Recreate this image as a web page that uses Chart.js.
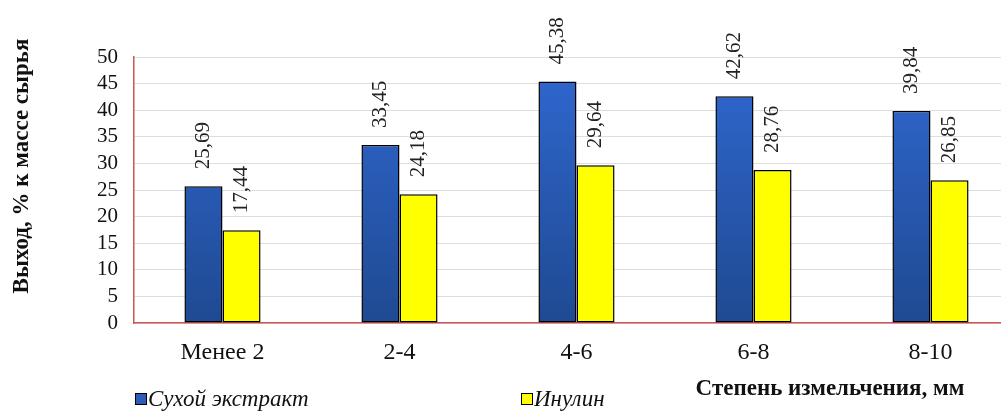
<!DOCTYPE html>
<html>
<head>
<meta charset="utf-8">
<script src="https://cdn.jsdelivr.net/npm/chart.js@4.4.1/dist/chart.umd.min.js"></script>
<style>
  html, body { margin: 0; padding: 0; background: #fff; overflow: hidden; }
  #wrap { width: 1019px; height: 412px; }
</style>
</head>
<body>
<div id="wrap"><canvas id="chart"></canvas></div>
<script>
// Data
const categories = ['Менее 2', '2-4', '4-6', '6-8', '8-10'];
const extractValues = [25.69, 33.45, 45.38, 42.62, 39.84];
const inulinValues = [17.44, 24.18, 29.64, 28.76, 26.85];
const seriesNames = ['Сухой экстракт', 'Инулин'];
const yTitle = 'Выход, % к массе сырья';
const xTitle = 'Степень измельчения, мм';

const serif = '"Liberation Serif", "DejaVu Serif", serif';

// blue bars get a vertical gradient like the original
const blueFill = (ctx) => {
  const chart = ctx.chart;
  const area = chart.chartArea;
  if (!area) return '#2a5cb8';
  const g = chart.ctx.createLinearGradient(0, area.top, 0, area.bottom);
  g.addColorStop(0, '#3068d2');
  g.addColorStop(1, '#1f4a92');
  return g;
};

// value labels, rotated, above every bar
const valueLabels = {
  id: 'valueLabels',
  afterDatasetsDraw(chart) {
    const ctx = chart.ctx;
    ctx.save();
    ctx.font = '21px ' + serif;
    ctx.fillStyle = '#222';
    ctx.textAlign = 'left';
    ctx.textBaseline = 'middle';
    chart.data.datasets.forEach((ds, i) => {
      chart.getDatasetMeta(i).data.forEach((bar, j) => {
        ctx.save();
        ctx.translate(bar.x, bar.y - 17);
        ctx.rotate(-Math.PI / 2);
        ctx.fillText(ds.data[j].toFixed(2).replace('.', ','), 0, 0);
        ctx.restore();
      });
    });
    ctx.restore();
  }
};

// axis titles and legend
const extraTexts = {
  id: 'extraTexts',
  afterDraw(chart) {
    const ctx = chart.ctx;
    ctx.save();
    ctx.fillStyle = '#111';
    ctx.font = 'bold 23px ' + serif;
    ctx.textAlign = 'center';
    ctx.textBaseline = 'middle';
    ctx.fillText(xTitle, 830, 389);

    ctx.save();
    ctx.translate(22, 166);
    ctx.rotate(-Math.PI / 2);
    ctx.fillText(yTitle, 0, 0);
    ctx.restore();

    const items = [
      { x: 135, color: '#2a5cb8', text: seriesNames[0] },
      { x: 521, color: '#ffff00', text: seriesNames[1] }
    ];
    ctx.font = 'italic 23px ' + serif;
    ctx.textAlign = 'left';
    items.forEach((it) => {
      ctx.fillStyle = it.color;
      ctx.fillRect(it.x, 393, 11, 11);
      ctx.strokeStyle = '#000';
      ctx.lineWidth = 1;
      ctx.strokeRect(it.x + 0.5, 393.5, 11, 11);
      ctx.fillStyle = '#111';
      ctx.fillText(it.text, it.x + 13, 400);
    });
    ctx.restore();
  }
};

new Chart(document.getElementById('chart'), {
  type: 'bar',
  data: {
    labels: categories,
    datasets: [
      {
        label: seriesNames[0],
        data: extractValues,
        backgroundColor: blueFill,
        borderColor: '#000',
        borderWidth: 1.5,
        borderSkipped: false
      },
      {
        label: seriesNames[1],
        data: inulinValues,
        backgroundColor: '#ffff00',
        borderColor: '#000',
        borderWidth: 1.5,
        borderSkipped: false
      }
    ]
  },
  options: {
    responsive: true,
    maintainAspectRatio: false,
    animation: false,
    layout: { padding: { top: 57, right: 0, bottom: 0, left: 0 } },
    datasets: { bar: { categoryPercentage: 0.43, barPercentage: 1 } },
    plugins: {
      legend: { display: false },
      tooltip: { enabled: false }
    },
    scales: {
      x: {
        grid: { display: false, drawTicks: false },
        border: { color: '#cc5555', width: 1.5 },
        ticks: { color: '#111', font: { family: serif, size: 24 }, padding: 15, autoSkip: false, maxRotation: 0 },
        afterFit: (scale) => { scale.height = 89; }
      },
      y: {
        min: 0,
        max: 50,
        ticks: { stepSize: 5, autoSkip: false, color: '#111', font: { family: serif, size: 21, lineHeight: 1 }, padding: 16 },
        grid: { color: '#dedede', drawTicks: false },
        border: { color: '#cc5555', width: 1.5 },
        afterFit: (scale) => { scale.width = 134; }
      }
    }
  },
  plugins: [valueLabels, extraTexts]
});
</script>
</body>
</html>
